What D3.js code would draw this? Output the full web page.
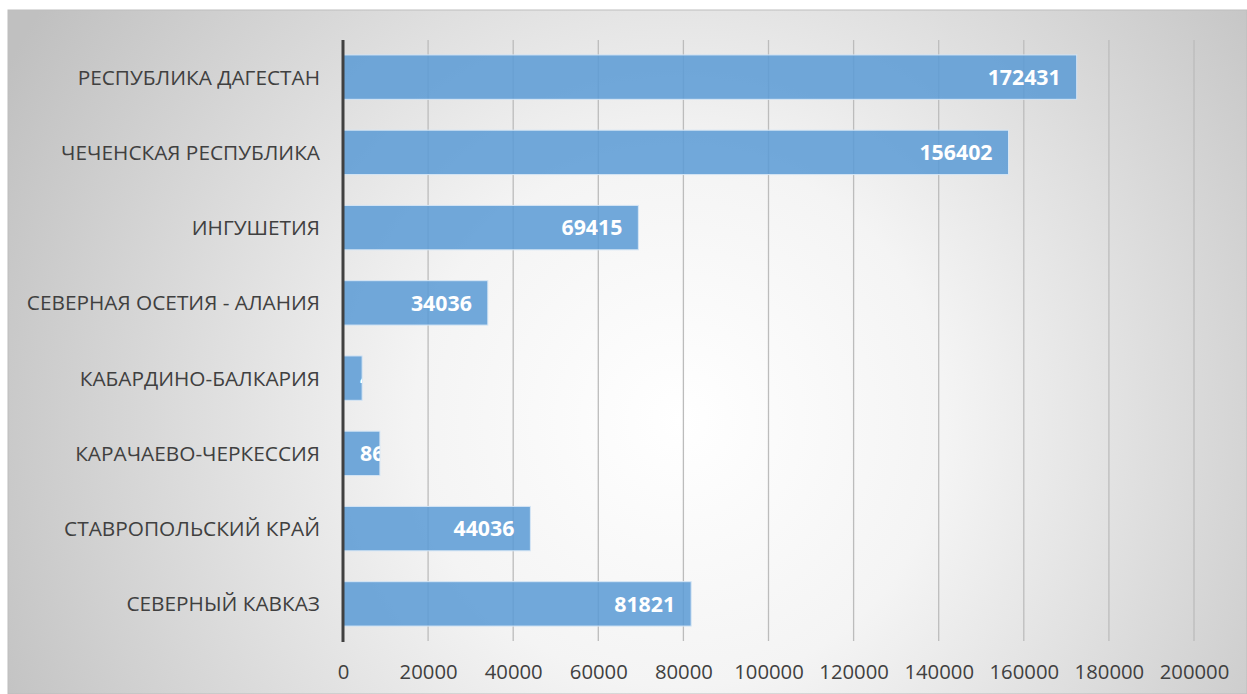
<!DOCTYPE html>
<html><head><meta charset="utf-8">
<script src="https://cdn.jsdelivr.net/npm/d3@7"></script>
<style>body{margin:0;background:#fff}svg{display:block}</style>
</head><body>
<script>
const categories = ["РЕСПУБЛИКА ДАГЕСТАН","ЧЕЧЕНСКАЯ РЕСПУБЛИКА","ИНГУШЕТИЯ","СЕВЕРНАЯ ОСЕТИЯ - АЛАНИЯ","КАБАРДИНО-БАЛКАРИЯ","КАРАЧАЕВО-ЧЕРКЕССИЯ","СТАВРОПОЛЬСКИЙ КРАЙ","СЕВЕРНЫЙ КАВКАЗ"];
const values = [172431,156402,69415,34036,4493,8675,44036,81821];
const tickValues = [0,20000,40000,60000,80000,100000,120000,140000,160000,180000,200000];

const W=1247,H=694;
const svg=d3.select("body").append("svg").attr("width",W).attr("height",H);
const defs=svg.append("defs");
const rg=defs.append("radialGradient").attr("id","bg").attr("gradientUnits","userSpaceOnUse")
  .attr("cx",680).attr("cy",420).attr("r",760);
rg.append("stop").attr("offset","0").attr("stop-color","#ffffff");
rg.append("stop").attr("offset","0.35").attr("stop-color","#f4f4f4");
rg.append("stop").attr("offset","1").attr("stop-color","#c0c0c0");
svg.append("rect").attr("x",8).attr("y",10).attr("width",W-8).attr("height",H-10).attr("fill","url(#bg)")
  .attr("stroke","#bdbdbd").attr("stroke-width",1);

const x=d3.scaleLinear().domain([0,200000]).range([343,1194]);
const y=d3.scaleBand().domain(categories).range([39.5,641.5]).paddingInner(0.41).paddingOuter(0.205);

const font="'Open Sans', 'Liberation Sans', sans-serif";
// gridlines
svg.append("g").selectAll("line").data(tickValues.slice(1)).join("line")
  .attr("x1",d=>x(d)).attr("x2",d=>x(d)).attr("y1",40).attr("y2",641)
  .attr("stroke","#bcbcbc").attr("stroke-width",1.3);

// bars
const bars=svg.append("g");
categories.forEach((c,i)=>{
  defs.append("clipPath").attr("id","clip"+i).append("rect")
    .attr("x",x(0)).attr("y",y(c)).attr("width",x(values[i])-x(0)).attr("height",y.bandwidth());
});
bars.selectAll("rect").data(categories).join("rect")
  .attr("x",x(0)).attr("y",d=>y(d)).attr("width",(d,i)=>x(values[i])-x(0)).attr("height",y.bandwidth())
  .attr("fill","#5b9bd5").attr("fill-opacity",0.86).attr("stroke","#d6e6f5").attr("stroke-width",1);

// labels
const lab=svg.append("g");
categories.forEach((c,i)=>{
  const t=lab.append("text").attr("clip-path",`url(#clip${i})`)
    .attr("y",y(c)+y.bandwidth()/2).attr("dy","0.36em")
    .attr("font-family",font).attr("font-weight","bold").attr("font-size",21.3).attr("fill","#fff")
    .text(values[i]);
  const w=t.node().getComputedTextLength();
  const end=x(values[i])-16;
  let sx=end-w;
  if(sx<x(0)+16) sx=x(0)+17;
  t.attr("x",sx);
});

// axis line
svg.append("line").attr("x1",x(0)).attr("x2",x(0)).attr("y1",40).attr("y2",642)
  .attr("stroke","#404040").attr("stroke-width",3);

// category labels
svg.append("g").selectAll("text").data(categories).join("text")
  .attr("x",320).attr("y",d=>y(d)+y.bandwidth()/2).attr("dy","0.36em").attr("text-anchor","end")
  .attr("font-family",font).attr("font-size",20.8).attr("fill","#404040").text(d=>d);

// tick labels
const ax=d3.axisBottom(x).tickValues(tickValues).tickSize(0).tickFormat(d=>String(d));
const g=svg.append("g").attr("transform","translate(0,662)").call(ax);
g.select(".domain").remove();
g.selectAll("text").attr("font-family",font).attr("font-size",20.3).attr("fill","#404040");
</script>
</body></html>
